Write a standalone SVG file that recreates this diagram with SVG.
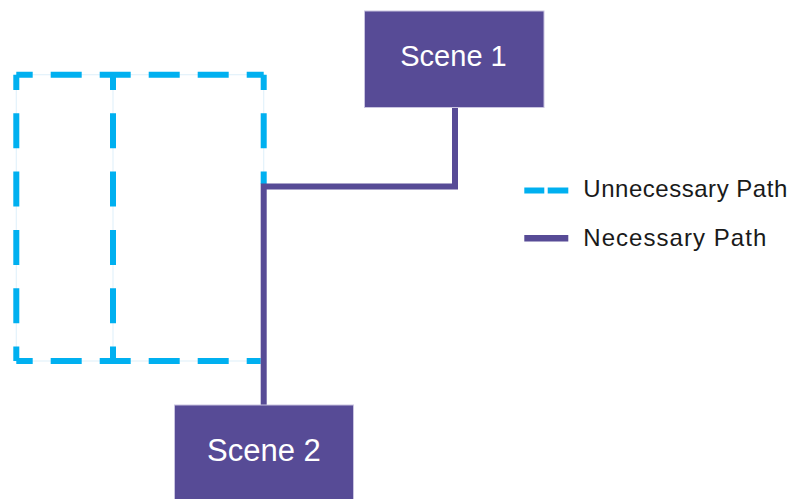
<svg xmlns="http://www.w3.org/2000/svg" width="798" height="499" viewBox="0 0 798 499">
<style>
.faint{fill:none;stroke:#e3f2fb;stroke-width:1.2}
.dh{fill:none;stroke:#00b0f0;stroke-width:6;stroke-dasharray:31 18;stroke-dashoffset:14.6}
.dv{fill:none;stroke:#00b0f0;stroke-width:6;stroke-dasharray:35 23.3;stroke-dashoffset:19.7}
.solid{fill:none;stroke:#574b96;stroke-width:6}
.box{fill:#574b96;stroke:#c9c4e0;stroke-width:1}
.lbl{fill:#ffffff;font-family:"Liberation Sans",Arial,sans-serif;text-anchor:middle}
.leg{fill:#1a1a1a;font-family:"Liberation Sans",Arial,sans-serif;font-size:24px}
</style>
<rect width="798" height="499" fill="#ffffff"/>
<g id="unnecessary-path">
<rect class="faint" x="16.3" y="74.7" width="247.4" height="286.3"/>
<line class="faint" x1="113" y1="74.7" x2="113" y2="361"/>
<path class="dh" d="M16.3 74.7H263.7"/>
<path class="dh" d="M16.3 361H260.7"/>
<path class="dv" d="M16.3 74.7V361"/>
<path class="dv" d="M113 74.7V361"/>
<path class="dv" d="M263.7 74.7V184"/>
</g>
<g id="connectors">
<path class="solid" d="M455 107.5V186.5H263.7V405"/>
</g>
<g id="scene1">
<rect class="box" x="364.5" y="11" width="179.5" height="96.5"/>
<text class="lbl" x="453.5" y="66" font-size="29">Scene 1</text>
</g>
<g id="scene2">
<rect class="box" x="174.5" y="405" width="179" height="100"/>
<text class="lbl" x="264" y="461" font-size="31">Scene 2</text>
</g>
<g id="legend">
<line x1="524.3" y1="190.5" x2="544.3" y2="190.5" stroke="#00b0f0" stroke-width="6"/>
<line x1="547.7" y1="190.5" x2="568.3" y2="190.5" stroke="#00b0f0" stroke-width="6"/>
<text class="leg" x="583.3" y="197.3" textLength="204">Unnecessary Path</text>
<line x1="524.3" y1="238.3" x2="568.3" y2="238.3" stroke="#574b96" stroke-width="6.5"/>
<text class="leg" x="583.3" y="245.5" textLength="183">Necessary Path</text>
</g>
</svg>
